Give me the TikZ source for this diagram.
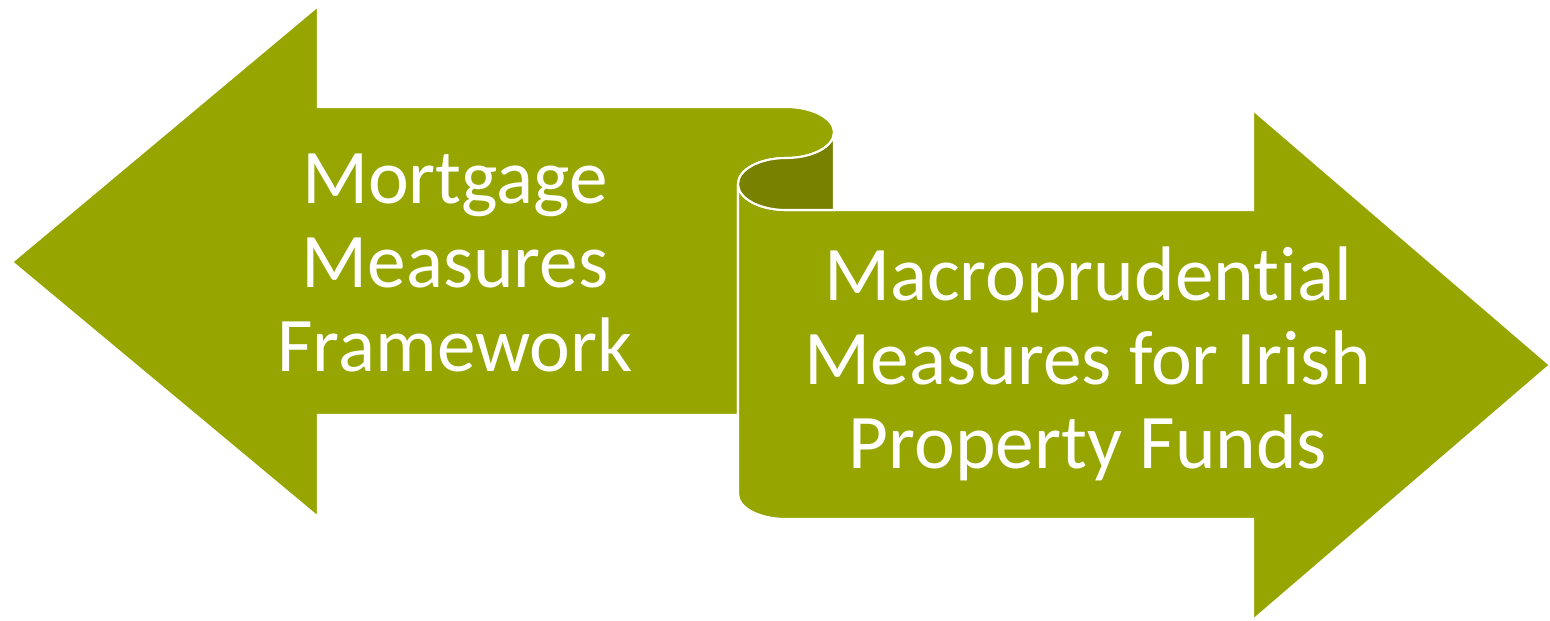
\documentclass[tikz,border=0pt]{standalone}
\usepackage{fontspec}
\setmainfont[Ligatures=NoCommon]{Carlito}
\definecolor{olive}{RGB}{150,165,0}
\definecolor{oliveD}{RGB}{120,130,0}
\begin{document}
\begin{tikzpicture}[x=0.02cm,y=0.02cm,arrowbox/.style={fill=olive,draw=white,line width=1.2pt,line join=miter},arrowboxD/.style={arrowbox,fill=oliveD},arrowtext/.style={text=white,align=center,font=\fontsize{44}{48}\selectfont}]
\def\rx{48};
\def\ry{25.5};
\useasboundingbox (0,0) rectangle (1550,-620);

% left arrow, ends in the scroll
\draw[arrowbox] (12,-262) -- (318,-6) -- (318,-107) -- (786,-107)
  arc[start angle=90,end angle=-90,x radius=\rx,y radius=\ry]
  arc[start angle=90,end angle=180,x radius=\rx,y radius=26]
  -- (738,-415) -- (318,-415) -- (318,-517) -- cycle;

% right arrow
\draw[arrowbox] (738,-184) arc[start angle=180,end angle=270,x radius=\rx,y radius=26]
  -- (1253,-210) -- (1253,-110) -- (1550,-365) -- (1253,-620) -- (1253,-519) -- (786,-519)
  arc[start angle=270,end angle=180,x radius=\rx,y radius=25] -- cycle;

% back of the curl
\draw[arrowboxD] (738,-184) arc[start angle=180,end angle=90,x radius=\rx,y radius=26]
  arc[start angle=270,end angle=360,x radius=\rx,y radius=\ry]
  -- (834,-210) -- (786,-210)
  arc[start angle=270,end angle=180,x radius=\rx,y radius=26] -- cycle;

\node[arrowtext] (mortgage) at (455,-263) {Mortgage\\Measures\\Framework};
\node[arrowtext] (funds) at (1088,-364) {Macroprudential\\Measures for Irish\\Property Funds};
\end{tikzpicture}
\end{document}
